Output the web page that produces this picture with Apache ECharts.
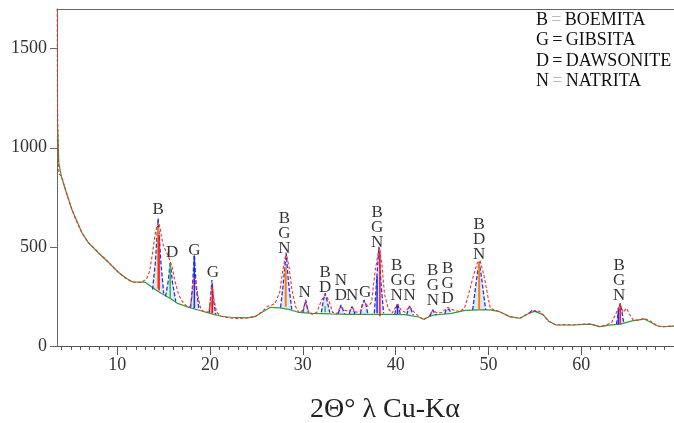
<!DOCTYPE html>
<html>
<head>
<meta charset="utf-8">
<script src="https://cdn.jsdelivr.net/npm/echarts@6/dist/echarts.min.js"></script>
<style>html,body{margin:0;padding:0;background:#fff}#c{width:674px;height:423px}</style>
</head>
<body>
<div id="c"></div>
<script>
// ---- data ----
const obsX = [3.53,3.56,3.62,3.7,3.8,4.0,4.4,5.1,5.5,6.2,6.9,7.5,8.0,8.5,9.0,9.5,10.1,10.8,11.6,12.2,12.7,13.2,
  13.5,13.8,14.1,14.4,14.6,14.8,15.0,15.3,15.6,15.9,16.2,16.6,17.0,17.4,17.8,18.0,18.2,18.4,18.7,19.0,19.5,19.9,20.2,20.4,20.7,21.2,
  22.0,23.0,24.0,24.85,25.6,26.2,26.65,27.0,27.5,27.9,28.2,28.5,28.8,29.2,29.6,30.0,30.3,30.6,31.0,31.5,32.0,32.4,32.8,33.2,33.6,
  34.1,34.5,35.0,35.3,35.7,36.2,36.6,37.0,37.4,37.8,38.2,38.5,38.8,39.2,39.6,40.2,40.6,41.0,41.5,41.9,42.6,43.0,43.6,44.0,44.5,
  45.0,45.6,46.0,46.9,47.4,47.8,48.3,48.8,49.1,49.5,49.9,50.2,51.2,52.3,53.4,54.3,55.0,55.5,55.9,56.5,57.3,58.0,59.1,60.0,61.0,
  62.0,62.7,63.3,63.8,64.2,64.5,64.9,65.2,65.6,66.2,66.8,67.5,68.2,68.8,69.4,70.0];
const obsY = [1700,1200,1000,870,880,855,790,690,640,570,520,495,470,448,425,400,374,345,323,320,323,343,
  380,470,570,625,600,540,500,475,440,400,330,260,225,205,195,230,330,345,250,185,168,175,300,240,170,150,
  142,138,142,148,173,200,207,215,270,400,470,400,290,200,167,180,225,175,160,170,230,260,230,170,160,
  200,180,175,195,170,175,225,200,220,380,495,420,260,190,165,210,180,170,200,175,145,132,150,180,165,
  170,195,185,173,190,250,340,420,430,360,260,190,173,148,140,165,178,175,157,125,106,108,106,110,111,
  97,106,120,170,210,170,190,160,131,130,140,125,100,97,100,101];

const baseX = [3.55,3.7,4.0,4.4,5.1,6.2,6.9,8.0,9.0,10.1,11.0,11.6,12.5,13.0,13.5,14.4,15.7,16.5,17.7,19.0,20.2,21.2,22.2,24.0,
  24.85,25.6,26.5,27.5,28.5,29.5,31,33,35,37,39,41,42.6,43,44,46,47.5,49,50.2,51.2,52.3,53.4,54.3,55,55.9,56.5,57.3,59.1,61,62,63,
  64.2,65.6,66.8,68.2,68.8,70];
const baseY = [1120,920,850,790,688,570,520,468,424,372,340,324,322,322,305,275,240,215,195,178,162,150,145,142,
  148,170,195,192,185,170,165,162,160,160,160,158,145,135,155,165,180,182,182,173,148,140,163,176,157,125,106,106,110,98,105,
  110,128,136,102,97,100];

// fitted peak profiles [2theta, counts]
const bluePeaks = [
  [[13.8,285],[14.1,420],[14.4,645],[14.7,420],[15.0,265]],
  [[15.2,250],[15.5,330],[15.7,425],[15.95,320],[16.3,225]],
  [[17.9,195],[18.1,300],[18.3,460],[18.5,300],[18.8,185]],
  [[19.9,168],[20.05,240],[20.2,333],[20.35,240],[20.6,160]],
  [[27.6,195],[27.9,320],[28.2,470],[28.45,320],[28.8,185]],
  [[30.0,170],[30.15,200],[30.3,232],[30.45,200],[30.6,168]],
  [[32.0,170],[32.2,230],[32.4,266],[32.6,230],[32.9,168]],
  [[33.8,163],[34.0,190],[34.1,207],[34.25,190],[34.5,162]],
  [[35.0,162],[35.15,185],[35.3,199],[35.45,185],[35.6,161]],
  [[36.2,162],[36.4,210],[36.6,232],[36.8,210],[37.0,162]],
  [[37.7,165],[37.95,330],[38.2,500],[38.4,330],[38.7,165]],
  [[39.9,160],[40.05,190],[40.2,215],[40.35,190],[40.5,160]],
  [[41.2,158],[41.35,185],[41.5,202],[41.65,185],[41.9,155]],
  [[43.7,150],[43.85,170],[44.0,182],[44.15,170],[44.4,155]],
  [[45.3,163],[45.45,185],[45.6,195],[45.75,185],[46.0,165]],
  [[48.3,182],[48.7,330],[49.0,426],[49.3,330],[49.7,182]],
  [[54.4,165],[54.7,180],[54.9,182],[55.2,172]],
  [[63.8,110],[64.0,170],[64.2,215],[64.4,170],[64.6,112]]
];

// reference sticks [2theta, from, to]
const orangeSticks = [[14.4,290,600],[20.15,165,230],[28.15,198,400],[49.0,182,420]];
const greenSticks = [[15.7,240,420],[32.4,170,200]];
const blueSticks = [[18.3,190,455],[38.0,165,350],[40.2,160,210],[64.0,110,190]];
const redSticks = [[14.5,280,560],[20.25,165,300],[38.3,150,485],[64.2,110,215]];

// phase labels
const labelX = [14.4,15.9,18.3,20.3,28.0,30.2,32.4,34.1,35.3,36.7,38.0,40.1,41.5,44.0,45.6,49.0,64.1];
const labelY = [652,435,445,333,455,232,258,217,217,232,485,217,217,192,202,424,217];
const labelText = ['B','D','G','G','B\nG\nN','N','B\nD','N\nD','N','G','B\nG\nN','B\nG\nN','G\nN','B\nG\nN','B\nG\nD','B\nD\nN','B\nG\nN'];

const xMajorTicks = [10,20,30,40,50,60];
const xMinorTicks = [4,5,6,7,8,9,11,12,13,14,15,16,17,18,19,21,22,23,24,25,26,27,28,29,31,32,33,34,35,36,37,38,39,
  41,42,43,44,45,46,47,48,49,51,52,53,54,55,56,57,58,59,61,62,63,64,65,66,67,68,69];
const yTicks = [0,500,1000,1500];

const legendLines = [['B','BOEMITA',true],['G','GIBSITA',false],['D','DAWSONITE',false],['N','NATRITA',true]];
const xAxisName = '2Θ° λ Cu-Kα';

// ---- chart ----
const FONT = 'Liberation Serif';
const XMIN = 3.5, XMAX = 70;
function zip(a, b) { return a.map((v, i) => [v, b[i]]); }
function stickSeries(list, color, w) {
  return {
    type: 'custom', data: list, clip: true, z: 4,
    renderItem: function (params, api) {
      const p1 = api.coord([api.value(0), api.value(1)]);
      const p2 = api.coord([api.value(0), api.value(2)]);
      return { type: 'line', shape: { x1: p1[0], y1: p1[1], x2: p2[0], y2: p2[1] }, style: { stroke: color, lineWidth: w } };
    }
  };
}

const series = [];
series.push({
  type: 'custom', z: 1, data: bluePeaks.map((p, i) => [p[0][0], p[0][1], i]),
  renderItem: function (params, api) {
    const pts = bluePeaks[api.value(2)].map(q => api.coord(q));
    return { type: 'polygon', shape: { points: pts }, style: { fill: 'rgba(110,150,255,0.22)' } };
  }
});
series.push({
  type: 'line', data: zip(baseX, baseY), symbol: 'none', z: 2,
  lineStyle: { color: '#2e9e3a', width: 1.2 }
});
bluePeaks.forEach(p => series.push({
  type: 'line', data: p, symbol: 'none', z: 3,
  lineStyle: { color: '#2233ee', width: 1.3, type: [4, 2] }
}));
series.push(stickSeries(orangeSticks, '#ff8000', 2));
series.push(stickSeries(greenSticks, '#33bb33', 1.5));
series.push(stickSeries(blueSticks, '#1a2aff', 1.5));
series.push(stickSeries(redSticks, '#ff1010', 1.5));
series.push({
  type: 'line', data: zip(obsX, obsY), symbol: 'none', z: 5,
  lineStyle: { color: '#ff2a2a', width: 1.1, type: [3, 2] }
});
series.push({
  type: 'scatter', data: zip(labelX, labelY), symbolSize: 0, z: 6, silent: true,
  label: {
    show: true, position: 'top', distance: 0,
    formatter: p => labelText[p.dataIndex],
    fontFamily: FONT, fontSize: 17, lineHeight: 15, color: '#000', align: 'center'
  }
});

const legendGraphics = legendLines.map((l, i) => ({
  type: 'text', left: 536, top: 11 + i * 20.5, z: 10,
  style: {
    text: '{a|' + l[0] + '} {e|=} {a|' + l[1] + '}',
    rich: {
      a: { fontFamily: FONT, fontSize: 18, fill: '#111' },
      e: { fontFamily: FONT, fontSize: 18, fill: l[2] ? '#bbbbbb' : '#111' }
    }
  }
}));

const option = {
  animation: false,
  backgroundColor: '#ffffff',
  grid: { left: 57, right: 0, top: 9, bottom: 77, containLabel: false },
  xAxis: [
    {
      type: 'value', min: XMIN, max: XMAX, position: 'bottom',
      axisLine: { show: true, lineStyle: { color: '#555', width: 1 } },
      axisTick: { show: true, length: 9, customValues: xMajorTicks, lineStyle: { color: '#555' } },
      axisLabel: { customValues: xMajorTicks, margin: 10, fontFamily: FONT, fontSize: 18, color: '#333', formatter: v => String(v) },
      splitLine: { show: false }
    },
    {
      type: 'value', min: XMIN, max: XMAX, position: 'bottom', offset: 0,
      axisLine: { show: false },
      axisTick: { show: true, length: 4, customValues: xMinorTicks, lineStyle: { color: '#555' } },
      axisLabel: { show: false }, splitLine: { show: false }
    },
    {
      type: 'value', min: XMIN, max: XMAX, position: 'top',
      axisLine: { show: true, lineStyle: { color: '#666', width: 1 } },
      axisTick: { show: false }, axisLabel: { show: false }, splitLine: { show: false }
    }
  ],
  yAxis: {
    type: 'value', min: 0, max: 1700,
    axisLine: { show: true, lineStyle: { color: '#666', width: 1 } },
    axisTick: { show: true, length: 7, customValues: yTicks, lineStyle: { color: '#666' } },
    axisLabel: { customValues: yTicks, margin: 10, fontFamily: FONT, fontSize: 18, color: '#333', formatter: v => String(v) },
    splitLine: { show: false }
  },
  graphic: legendGraphics.concat([{
    type: 'text', x: 385, y: 410, z: 10,
    style: { text: xAxisName, fontFamily: FONT, fontSize: 28, fill: '#222', textAlign: 'center', textVerticalAlign: 'middle' }
  }]),
  series: series
};

const chart = echarts.init(document.getElementById('c'), null, { renderer: 'canvas' });
chart.setOption(option);
</script>
</body>
</html>
